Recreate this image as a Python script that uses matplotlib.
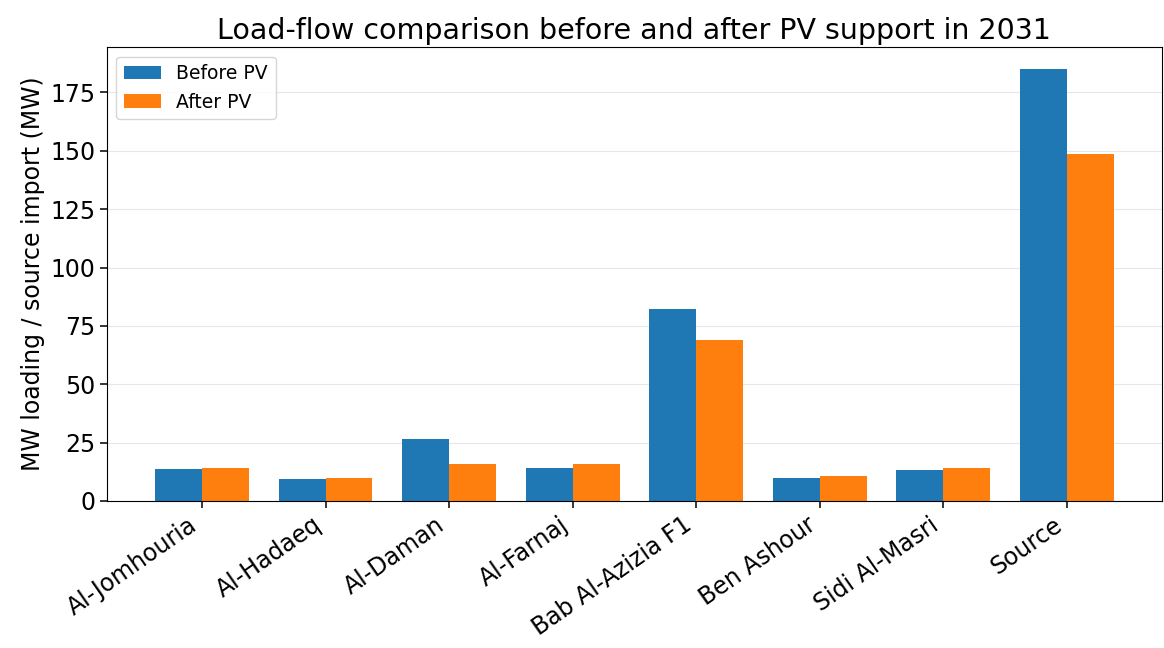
import numpy as np
import matplotlib.pyplot as plt

# Feeder loading before / after PV (MW)
feeders = ["Al-Jomhouria", "Al-Hadaeq", "Al-Daman", "Al-Farnaj",
           "Bab Al-Azizia F1", "Ben Ashour", "Sidi Al-Masri", "Source"]
before_pv = [13.5, 9.2, 26.4, 13.9, 82.4, 9.9, 13.2, 185.1]
after_pv = [14.0, 9.6, 15.6, 15.6, 68.8, 10.6, 14.3, 148.6]

x = np.arange(len(feeders))
width = 0.38

fig, ax = plt.subplots(figsize=(11.64, 6.48), dpi=100)
ax.bar(x - width / 2, before_pv, width, label="Before PV")
ax.bar(x + width / 2, after_pv, width, label="After PV")

ax.set_xticks(x)
ax.set_xticklabels(feeders, rotation=35, ha="right", fontsize=17)
ax.tick_params(axis="y", labelsize=17)
ax.tick_params(length=5, width=1.1)
ax.set_ylabel("MW loading / source import (MW)", fontsize=17)
ax.set_title("Load-flow comparison before and after PV support in 2031", fontsize=20.5)
ax.grid(axis="y", alpha=0.3)
ax.set_axisbelow(True)
ax.legend(fontsize=13.5)

plt.subplots_adjust(left=0.092, right=0.998, bottom=0.227, top=0.927)
plt.savefig("out.png")
